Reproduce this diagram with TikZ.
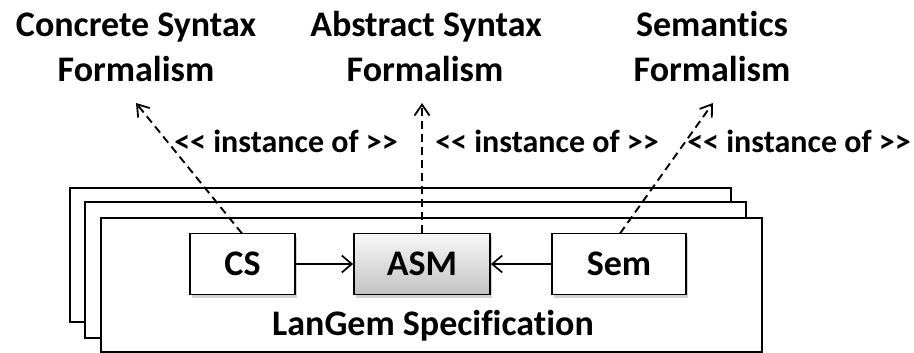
\documentclass[tikz,border=0pt]{standalone}
\usepackage{fontspec}
\setmainfont{Carlito}[Ligatures={NoCommon}]
\usetikzlibrary{arrows.meta,shadows}
\begin{document}
\begin{tikzpicture}[x=1pt,y=-1pt,
  sheet/.style={draw=black,line width=2pt,fill=white},
  part/.style={draw=black,line width=1.8pt,fill=white,minimum width=#1,minimum height=61pt,
    inner sep=0pt,font=\fontsize{36}{40}\selectfont\bfseries,
    drop shadow={shadow xshift=2pt,shadow yshift=-3pt,opacity=0.35}},
  formal/.style={anchor=base,inner sep=0pt,font=\fontsize{36}{40}\selectfont\bfseries},
  stereo/.style={anchor=base,inner sep=0pt,font=\fontsize{32}{34}\selectfont\bfseries},
  inst/.style={dash pattern=on 8pt off 5pt,line width=1.9pt,
    -{Straight Barb[length=11pt,width=15pt,line width=1.8pt]}},
  uses/.style={line width=1.8pt,-{Straight Barb[length=10pt,width=17pt,line width=1.7pt]}}]
\useasboundingbox (0,0) rectangle (914,353);

% stacked specification sheets
\draw[sheet] (70,188) rectangle (731,322);
\draw[sheet] (85,202) rectangle (746,338);
\draw[sheet] (101,218) rectangle (762,352);
\node[anchor=base,inner sep=0pt,font=\fontsize{36}{40}\selectfont\bfseries] (spec) at (433,335) {LanGem Specification};

% the three model parts
\node[part=105pt] (cs) at (242.5,264) {CS};
\node[part=136pt,top color=gray!6,bottom color=gray!48] (asm) at (422,264) {ASM};
\node[part=134pt] (sem) at (619,264) {Sem};

\draw[uses] (cs) -- (asm);
\draw[uses] (sem) -- (asm);

% formalisms
\node[formal] (csf) at (136,37) {Concrete Syntax};
\node[formal] (csf2) at (136,82) {Formalism};
\node[formal] (asf) at (426,37) {Abstract Syntax};
\node[formal] (asf2) at (425,82) {Formalism};
\node[formal] (semf) at (712,37) {Semantics};
\node[formal] (semf2) at (712,82) {Formalism};

\coordinate (cstip) at (136,103);
\coordinate (astip) at (422,103);
\coordinate (semtip) at (713,103);
\coordinate (csfoot) at (242,233.5);
\coordinate (semfoot) at (620,233.5);

\draw[inst] (csfoot) -- (cstip);
\draw[inst] (asm.north) -- (astip);
\draw[inst] (semfoot) -- (semtip);

\node[stereo] (l1) at (286,152) {{<}{<} instance of {>}{>}};
\node[stereo] (l2) at (547,152) {{<}{<} instance of {>}{>}};
\node[stereo] (l3) at (799,152) {{<}{<} instance of {>}{>}};
\end{tikzpicture}
\end{document}
